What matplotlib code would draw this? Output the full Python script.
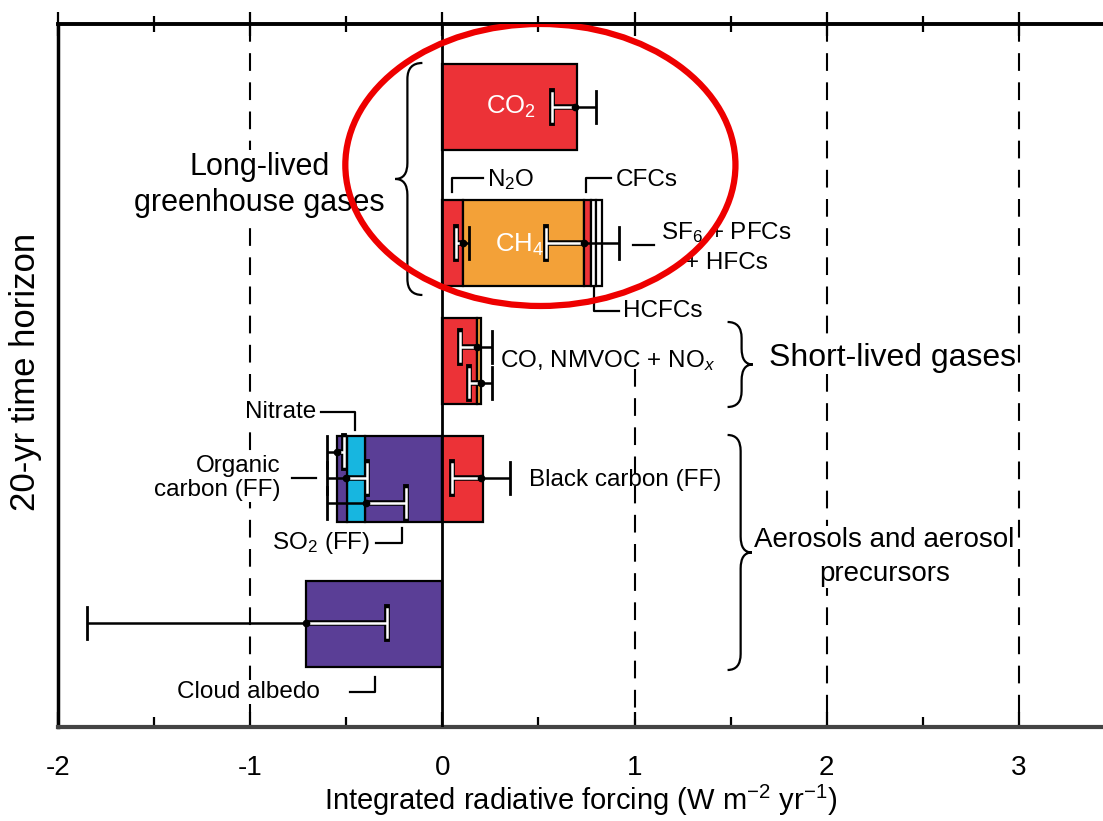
import numpy as np
import matplotlib
matplotlib.use("Agg")
import matplotlib.pyplot as plt
from matplotlib.patches import Ellipse, PathPatch
from matplotlib.path import Path

plt.rcParams['font.family'] = ['Liberation Sans', 'DejaVu Sans']
plt.rcParams['mathtext.fontset'] = 'custom'
plt.rcParams['mathtext.rm'] = 'Liberation Sans'
plt.rcParams['mathtext.it'] = 'Liberation Sans:italic'
plt.rcParams['axes.unicode_minus'] = False

# ---- data (W m-2 yr-1) ----
co2 = 0.70
ghg_names = ['N2O', 'CH4', 'CFCs', 'HCFCs', 'SF6+PFCs+HFCs']
ghg_vals = [0.105, 0.63, 0.04, 0.025, 0.03]
short_names = ['CO, NMVOC', 'NOx']
short_vals = [0.18, 0.02]
aer_neg_names = ['SO2 (FF)', 'Nitrate', 'Organic carbon (FF)']
aer_neg_vals = [-0.405, -0.09, -0.055]
black_carbon = 0.21
cloud_albedo = -0.71

# error bars: row index, offset within row, low, central, high
err_row = [0, 1, 1, 2, 2, 3, 3, 3, 3, 4]
err_off = [0, 0, 0, -0.14, 0.22, -0.27, -0.01, 0.24, -0.01, -0.01]
err_lo = [0.57, 0.07, 0.54, 0.09, 0.14, -0.60, -0.60, -0.60, 0.05, -1.85]
err_mid = [0.69, 0.105, 0.735, 0.18, 0.20, -0.55, -0.50, -0.40, 0.20, -0.71]
err_hi = [0.80, 0.14, 0.92, 0.26, 0.26, -0.51, -0.39, -0.19, 0.35, -0.29]

# ---- layout ----
row_pos = [0.83, 2.19, 3.37, 4.55, 6.00]
bar_h = 0.86
RED = '#ec3237'
ORANGE = '#f3a138'
PURPLE = '#5a3e96'
CYAN = '#17b6e0'

fig = plt.figure(figsize=(11.03, 8.21), dpi=100)
ax = fig.add_axes([0.0526, 0.1145, 0.9474, 0.8563])
ax.set_xlim(-2, 3.4375)
ax.set_ylim(7.03, 0)

# reference lines
for xv in [-1, 2, 3]:
    ax.plot([xv, xv], [0, 7.03], color='black', lw=1.5, dashes=(8.5, 5.5), zorder=1)
ax.plot([1, 1], [3.45, 7.03], color='black', lw=1.5, dashes=(8.5, 5.5), zorder=1)

def hbar(y, left, width, color):
    ax.barh(y, width, left=left, height=bar_h, color=color,
            edgecolor='black', linewidth=1.6, zorder=3)

# CO2
hbar(row_pos[0], 0, co2, RED)
# long-lived stack
ghg_cols = [RED, ORANGE, RED, 'white', 'white']
left = 0
for v, c in zip(ghg_vals, ghg_cols):
    hbar(row_pos[1], left, v, c)
    left += v
# short-lived
short_cols = [RED, ORANGE]
left = 0
for v, c in zip(short_vals, short_cols):
    hbar(row_pos[2], left, v, c)
    left += v
# aerosols
aer_cols = [PURPLE, CYAN, PURPLE]
left = 0
for v, c in zip(aer_neg_vals, aer_cols):
    hbar(row_pos[3], left, v, c)
    left += v
hbar(row_pos[3], 0, black_carbon, RED)
# cloud albedo
hbar(row_pos[4], 0, cloud_albedo, PURPLE)

# zero line
ax.axvline(0, color='black', lw=2, zorder=4)

cap = 0.16
for r, off, lo, mid, hi in zip(err_row, err_off, err_lo, err_mid, err_hi):
    y = row_pos[r] + off
    # side toward zero lies inside the bar -> white
    if abs(lo) < abs(hi):
        w_end, k_end = lo, hi
    else:
        w_end, k_end = hi, lo
    ax.plot([mid, k_end], [y, y], color='black', lw=1.8, zorder=6, solid_capstyle='butt')
    ax.plot([k_end, k_end], [y - cap, y + cap], color='black', lw=2, zorder=6)
    ax.plot([mid, w_end], [y, y], color='black', lw=4, zorder=6, solid_capstyle='butt')
    ax.plot([w_end, w_end], [y - cap, y + cap], color='black', lw=4.2, zorder=6)
    ax.plot([mid, w_end], [y, y], color='white', lw=1.8, zorder=7, solid_capstyle='butt')
    ax.plot([w_end, w_end], [y - cap + 0.02, y + cap - 0.02], color='white', lw=1.8, zorder=7)
    ax.plot(mid, y, 'o', color='black', ms=4.5, zorder=8)

# bar labels
ax.text(0.355, row_pos[0], r'CO$_2$', color='white', fontsize=18.5, ha='center', va='center', zorder=9)
ax.text(0.40, row_pos[1] + 0.02, r'CH$_4$', color='white', fontsize=18.5, ha='center', va='center', zorder=9)

lbl = dict(fontsize=17.5, va='center', zorder=9)
wb = dict(facecolor='white', edgecolor='none', pad=1)

def lead(xs, ys):
    ax.plot(xs, ys, color='black', lw=1.6, zorder=9)

# N2O, CFCs
lead([0.05, 0.05, 0.21], [1.68, 1.54, 1.54])
ax.text(0.23, 1.56, r'N$_2$O', **lbl)
lead([0.745, 0.745, 0.88], [1.68, 1.54, 1.54])
ax.text(0.90, 1.56, 'CFCs', **lbl)
# SF6
lead([0.99, 1.10], [2.21, 2.21])
ax.text(1.14, 2.09, r'SF$_6$ + PFCs', **lbl)
ax.text(1.26, 2.39, '+ HFCs', **lbl)
# HCFCs
lead([0.79, 0.79, 0.92], [2.64, 2.87, 2.87])
ax.text(0.94, 2.87, 'HCFCs', **lbl)
# short-lived
ax.text(0.30, 3.37, r'CO, NMVOC + NO$_x$', **lbl)
# aerosols
lead([-0.63, -0.455, -0.455], [3.88, 3.88, 4.06])
ax.text(-0.655, 3.88, 'Nitrate', ha='right', bbox=wb, **lbl)
lead([-0.78, -0.66], [4.54, 4.54])
ax.text(-0.84, 4.54, 'Organic\ncarbon (FF)', ha='right', multialignment='right',
        linespacing=1.1, bbox=wb, **lbl)
lead([-0.345, -0.21, -0.21], [5.19, 5.19, 5.04])
ax.text(-0.375, 5.19, r'SO$_2$ (FF)', ha='right', bbox=wb, **lbl)
ax.text(0.45, 4.56, 'Black carbon (FF)', **lbl)
lead([-0.48, -0.35, -0.35], [6.68, 6.68, 6.53])
ax.text(-0.635, 6.68, 'Cloud albedo', ha='right', bbox=wb, **lbl)

# group labels
grp = dict(va='center', zorder=9, bbox=wb)
ax.text(-0.95, 1.61, 'Long-lived\ngreenhouse gases', ha='center', fontsize=22,
        linespacing=1.3, **grp)
ax.text(1.70, 3.34, 'Short-lived gases', ha='left', fontsize=23, **grp)
ax.text(2.30, 5.33, 'Aerosols and aerosol\nprecursors', ha='center', fontsize=20,
        linespacing=1.4, **grp)

def brace(x_end, x_spine, x_tip, y0, y1, r=0.16):
    ym = (y0 + y1) / 2
    verts = [(x_end, y0), (x_spine, y0), (x_spine, y0 + r),
             (x_spine, ym - r), (x_spine, ym), (x_tip, ym),
             (x_spine, ym), (x_spine, ym + r),
             (x_spine, y1 - r), (x_spine, y1), (x_end, y1)]
    codes = [Path.MOVETO, Path.CURVE3, Path.CURVE3,
             Path.LINETO, Path.CURVE3, Path.CURVE3,
             Path.CURVE3, Path.CURVE3,
             Path.LINETO, Path.CURVE3, Path.CURVE3]
    ax.add_patch(PathPatch(Path(verts, codes), fill=False, lw=1.6,
                           edgecolor='black', zorder=10))

brace(-0.104, -0.182, -0.245, 0.39, 2.71)
brace(1.484, 1.557, 1.615, 2.98, 3.83)
brace(1.484, 1.552, 1.61, 4.11, 6.46)

# highlight ellipse
ax.add_patch(Ellipse((0.51, 1.41), 2.03, 2.82, fill=False, edgecolor='#ee0000',
                     lw=4.5, zorder=11))

# axes styling
ax.spines['right'].set_visible(False)
ax.spines['left'].set_linewidth(2.5)
ax.spines['top'].set_linewidth(2.8)
ax.spines['bottom'].set_linewidth(3)
ax.spines['bottom'].set_color('#444444')
ax.set_yticks([])
ax.set_xticks([-2, -1, 0, 1, 2, 3])
ax.set_xticklabels(['-2', '-1', '0', '1', '2', '3'])
ax.set_xticks(np.arange(-1.5, 3.5, 1.0), minor=True)
ax.tick_params(axis='x', which='major', direction='in', length=11, width=1.6,
               labelsize=20, pad=20)
ax.tick_params(axis='x', which='minor', direction='in', length=7, width=1.6)
top = ax.secondary_xaxis('top')
top.set_xticks([-2, -1, 0, 1, 2, 3])
top.set_xticks(np.arange(-1.5, 3.5, 1.0), minor=True)
top.tick_params(which='major', direction='inout', length=17, width=1.6, labeltop=False)
top.tick_params(which='minor', direction='inout', length=12, width=1.6)
top.spines['top'].set_visible(False)

ax.set_xlabel(r'Integrated radiative forcing (W m$^{-2}$ yr$^{-1}$)', fontsize=21, va='center')
ax.xaxis.set_label_coords(0.5, -0.105)
ax.set_ylabel('20-yr time horizon', fontsize=25, va='center')
ax.yaxis.set_label_coords(-0.0312, 0.505)

fig.savefig('out.png', dpi=100)
